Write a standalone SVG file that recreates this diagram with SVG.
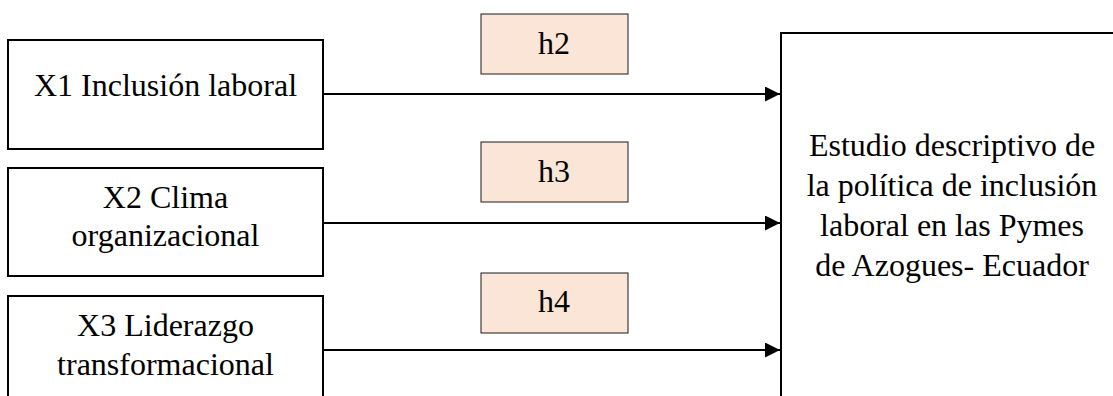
<svg xmlns="http://www.w3.org/2000/svg" width="1113" height="396" viewBox="0 0 1113 396">
<defs>
<style>
.box{fill:#fff;stroke:#000;stroke-width:2}
.hbox{fill:#FBE5D6;stroke:#1a1a1a;stroke-width:1}
.t{font-family:"Liberation Serif","Times New Roman",serif;font-size:32px;fill:#000;text-anchor:middle}
.conn{stroke:#000;stroke-width:2.2;fill:none}
</style>
<marker id="arr" viewBox="0 0 10 10" refX="10" refY="5" markerWidth="15" markerHeight="15" markerUnits="userSpaceOnUse" orient="auto">
<path d="M0,0 L10,5 L0,10 Z" fill="#000"/>
</marker>
</defs>
<rect width="1113" height="396" fill="#fff"/>
<g id="x1">
<rect class="box" x="8" y="40" width="315" height="109"/>
<text class="t" x="165.5" y="96">X1 Inclusión laboral</text>
</g>
<g id="x2">
<rect class="box" x="8" y="168" width="315" height="108"/>
<text class="t" x="165.5" y="208">X2 Clima</text>
<text class="t" x="165.5" y="246">organizacional</text>
</g>
<g id="x3">
<rect class="box" x="8" y="296" width="315" height="120"/>
<text class="t" x="165.5" y="336">X3 Liderazgo</text>
<text class="t" x="165.5" y="375">transformacional</text>
</g>
<g id="h2">
<rect class="hbox" x="481" y="14" width="147" height="60"/>
<text class="t" x="554" y="54">h2</text>
</g>
<g id="h3">
<rect class="hbox" x="481" y="142" width="147" height="60"/>
<text class="t" x="554" y="182">h3</text>
</g>
<g id="h4">
<rect class="hbox" x="481" y="273" width="147" height="60"/>
<text class="t" x="554" y="312">h4</text>
</g>
<g id="y">
<rect class="box" x="781" y="33" width="350" height="400"/>
<text class="t" x="952" y="156">Estudio descriptivo de</text>
<text class="t" x="952" y="196">la política de inclusión</text>
<text class="t" x="952" y="236">laboral en las Pymes</text>
<text class="t" x="952" y="276">de Azogues- Ecuador</text>
</g>
<g id="connectors">
<line class="conn" x1="323" y1="94" x2="780" y2="94" marker-end="url(#arr)"/>
<line class="conn" x1="323" y1="223" x2="780" y2="223" marker-end="url(#arr)"/>
<line class="conn" x1="323" y1="350" x2="780" y2="350" marker-end="url(#arr)"/>
</g>
</svg>
